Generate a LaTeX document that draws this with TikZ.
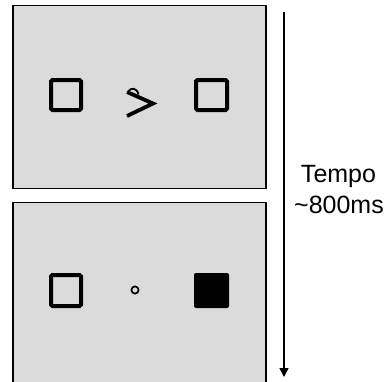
\documentclass[tikz,border=0pt]{standalone}
\usepackage{fontspec}
\setmainfont{Liberation Sans}
\usetikzlibrary{arrows.meta}
\begin{document}
\begin{tikzpicture}[x=1pt,y=-1pt,
  panel/.style={draw=black,line width=1.3pt,fill=black!14},
  cue/.style={draw=black,line width=4pt,rounded corners=1.5pt},
  target/.style={fill=black,rounded corners=2pt},
  label/.style={font=\fontsize{25}{31}\selectfont,anchor=base,inner sep=0pt}]
\useasboundingbox (0,0) rectangle (391,381);
\clip (0,0) rectangle (391,381);

% first frame: cue display
\draw[panel] (13,5.5) rectangle (266,188.5);
\draw[cue] (51,80) rectangle (81,110);
\draw[cue] (196,80) rectangle (227,110);
% central arrow cue with its small curl
\draw[line width=3.8pt,line cap=butt,line join=miter]
  (127,92) -- (153,103.5) -- (127,116);
\draw[line width=1.8pt] (128.5,91) .. controls (131,87.5) and (137,87.5) .. (138.5,94.5);

% second frame: target display (runs past the lower edge)
\draw[panel] (13,395) -- (13,202.5) -- (266,202.5) -- (266,395);
\draw[cue] (51,275) rectangle (81,306);
\fill[target] (194,273) rectangle (229,308);
\draw[line width=1.7pt] (135,290) circle[radius=3.6];

% time axis
\coordinate (t0) at (284,12);
\coordinate (t1) at (284,377);
\draw[line width=1.4pt,-{Triangle[length=9pt,width=9pt]}] (t0) -- (t1);
\node[label] (tempo) at (338.5,182) {Tempo};
\node[label] (dur) at (339,213) {\textasciitilde 800ms};
\end{tikzpicture}
\end{document}
